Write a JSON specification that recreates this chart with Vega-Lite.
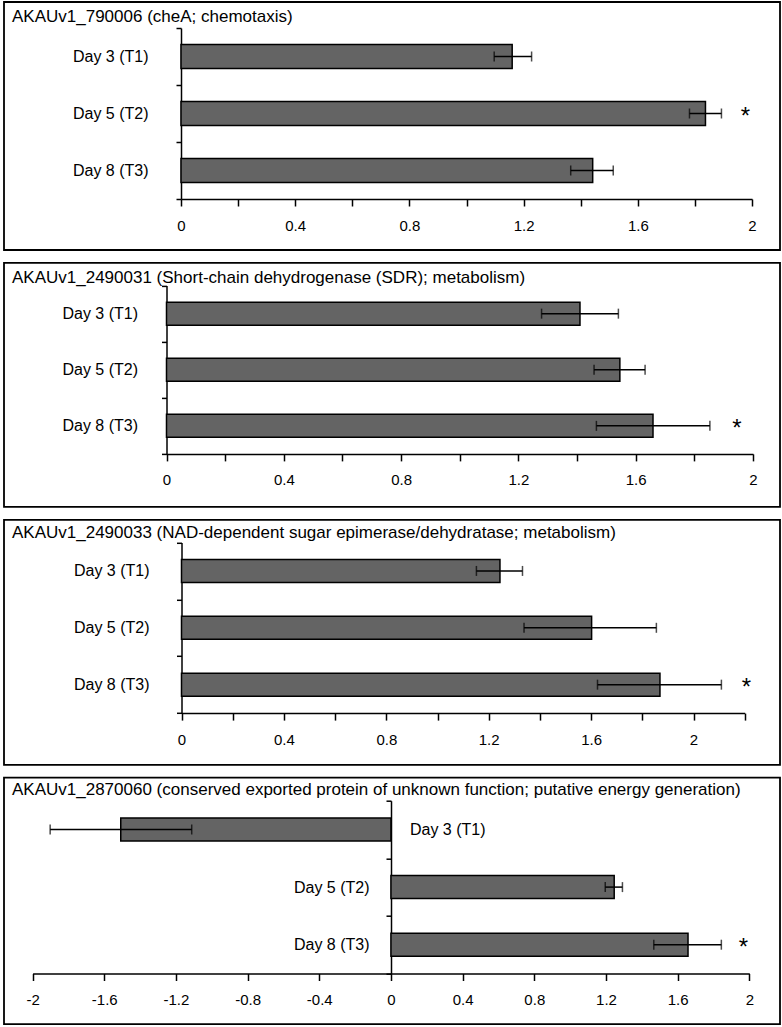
{
  "$schema": "https://vega.github.io/schema/vega-lite/v6.json",
  "background": "white",
  "padding": {"left": 3, "top": -7, "right": 0, "bottom": 0},
  "config": {
    "font": "Liberation Sans",
    "view": {"stroke": "black", "strokeWidth": 1.8},
    "axis": {
      "domainColor": "black", "domainWidth": 1.5, "tickColor": "black", "tickWidth": 1.5,
      "labelColor": "black", "labelFont": "Liberation Sans", "grid": false,
      "labelFlush": false, "labelOverlap": false, "labelBound": false, "title": null
    },
    "title": {"font": "Liberation Sans", "fontSize": 17, "fontWeight": "normal", "color": "black", "anchor": "start", "baseline": "alphabetic"}
  },
  "bounds": "flush",
  "spacing": 12.9,
  "vconcat": [
    {
      "width": 776, "height": 248,
      "title": {"text": "AKAUv1_790006 (cheA; chemotaxis)", "dx": 8, "offset": -32},
      "data": {"values": [
        {"day": "Day 3 (T1)", "mean": 1.16, "lo": 1.097, "hi": 1.228, "sig": ""},
        {"day": "Day 5 (T2)", "mean": 1.837, "lo": 1.781, "hi": 1.893, "sig": "*"},
        {"day": "Day 8 (T3)", "mean": 1.442, "lo": 1.365, "hi": 1.514, "sig": ""}
      ]},
      "encoding": {
        "y": {"field": "day", "type": "nominal", "sort": null,
          "scale": {"domain": ["Day 3 (T1)", "Day 5 (T2)", "Day 8 (T3)"], "range": [26, 197], "paddingInner": 0, "paddingOuter": 0},
          "axis": {"offset": -177, "tickBand": "extent", "tickSize": 5, "labelFontSize": 16, "labelPadding": 28}}
      },
      "layer": [
        {"mark": {"type": "bar", "size": 24, "fill": "#646464", "stroke": "black", "strokeWidth": 1.5},
         "encoding": {"x": {"field": "mean", "type": "quantitative", "title": null,
           "scale": {"domain": [0, 2], "range": [177, 748], "nice": false, "zero": false},
           "axis": {"offset": -51, "values": [0, 0.2, 0.4, 0.6, 0.8, 1, 1.2, 1.4, 1.6, 1.8, 2], "labelExpr": "abs(round(datum.value*10)) % 4 == 0 ? datum.value + '' : ''", "tickSize": 7, "labelFontSize": 15, "labelPadding": 12}}}},
        {"mark": {"type": "errorbar", "color": "black", "ticks": {"size": 10, "thickness": 1.5, "color": "black"}, "rule": {"strokeWidth": 1.5, "color": "black"}},
         "encoding": {"x": {"field": "lo", "type": "quantitative", "title": null}, "x2": {"field": "hi"}}},
        {"transform": [{"filter": "datum.sig == '*'"}],
         "mark": {"type": "text", "dx": 24, "dy": 3, "fontSize": 24, "align": "center", "baseline": "middle", "color": "black"},
         "encoding": {"x": {"field": "hi", "type": "quantitative", "title": null}, "text": {"field": "sig"}}}
      ]
    },
    {
      "width": 776, "height": 244,
      "title": {"text": "AKAUv1_2490031 (Short-chain dehydrogenase (SDR); metabolism)", "dx": 8, "offset": -32},
      "data": {"values": [
        {"day": "Day 3 (T1)", "mean": 1.41, "lo": 1.279, "hi": 1.541, "sig": ""},
        {"day": "Day 5 (T2)", "mean": 1.546, "lo": 1.458, "hi": 1.632, "sig": ""},
        {"day": "Day 8 (T3)", "mean": 1.659, "lo": 1.466, "hi": 1.853, "sig": "*"}
      ]},
      "encoding": {
        "y": {"field": "day", "type": "nominal", "sort": null,
          "scale": {"domain": ["Day 3 (T1)", "Day 5 (T2)", "Day 8 (T3)"], "range": [22.7, 191], "paddingInner": 0, "paddingOuter": 0},
          "axis": {"offset": -162.5, "tickBand": "extent", "tickSize": 5, "labelFontSize": 16, "labelPadding": 24}}
      },
      "layer": [
        {"mark": {"type": "bar", "size": 23, "fill": "#646464", "stroke": "black", "strokeWidth": 1.5},
         "encoding": {"x": {"field": "mean", "type": "quantitative", "title": null,
           "scale": {"domain": [0, 2], "range": [162.5, 749], "nice": false, "zero": false},
           "axis": {"offset": -53, "values": [0, 0.2, 0.4, 0.6, 0.8, 1, 1.2, 1.4, 1.6, 1.8, 2], "labelExpr": "abs(round(datum.value*10)) % 4 == 0 ? datum.value + '' : ''", "tickSize": 7, "labelFontSize": 15, "labelPadding": 12}}}},
        {"mark": {"type": "errorbar", "color": "black", "ticks": {"size": 10, "thickness": 1.5, "color": "black"}, "rule": {"strokeWidth": 1.5, "color": "black"}},
         "encoding": {"x": {"field": "lo", "type": "quantitative", "title": null}, "x2": {"field": "hi"}}},
        {"transform": [{"filter": "datum.sig == '*'"}],
         "mark": {"type": "text", "dx": 27, "dy": 3, "fontSize": 24, "align": "center", "baseline": "middle", "color": "black"},
         "encoding": {"x": {"field": "hi", "type": "quantitative", "title": null}, "text": {"field": "sig"}}}
      ]
    },
    {
      "width": 776, "height": 245,
      "title": {"text": "AKAUv1_2490033 (NAD-dependent sugar epimerase/dehydratase; metabolism)", "dx": 8, "offset": -30.5},
      "data": {"values": [
        {"day": "Day 3 (T1)", "mean": 1.244, "lo": 1.152, "hi": 1.332, "sig": ""},
        {"day": "Day 5 (T2)", "mean": 1.602, "lo": 1.338, "hi": 1.855, "sig": ""},
        {"day": "Day 8 (T3)", "mean": 1.869, "lo": 1.625, "hi": 2.109, "sig": "*"}
      ]},
      "encoding": {
        "y": {"field": "day", "type": "nominal", "sort": null,
          "scale": {"domain": ["Day 3 (T1)", "Day 5 (T2)", "Day 8 (T3)"], "range": [22.7, 193.3], "paddingInner": 0, "paddingOuter": 0},
          "axis": {"offset": -177.5, "tickBand": "extent", "tickSize": 5, "labelFontSize": 16, "labelPadding": 27.5}}
      },
      "layer": [
        {"mark": {"type": "bar", "size": 23, "fill": "#646464", "stroke": "black", "strokeWidth": 1.5},
         "encoding": {"x": {"field": "mean", "type": "quantitative", "title": null,
           "scale": {"domain": [0, 2.2], "range": [177.5, 740.7], "nice": false, "zero": false},
           "axis": {"offset": -51.7, "values": [0, 0.2, 0.4, 0.6, 0.8, 1, 1.2, 1.4, 1.6, 1.8, 2, 2.2], "labelExpr": "abs(round(datum.value*10)) % 4 == 0 ? datum.value + '' : ''", "tickSize": 7, "labelFontSize": 15, "labelPadding": 12}}}},
        {"mark": {"type": "errorbar", "color": "black", "ticks": {"size": 10, "thickness": 1.5, "color": "black"}, "rule": {"strokeWidth": 1.5, "color": "black"}},
         "encoding": {"x": {"field": "lo", "type": "quantitative", "title": null}, "x2": {"field": "hi"}}},
        {"transform": [{"filter": "datum.sig == '*'"}],
         "mark": {"type": "text", "dx": 25, "dy": 3, "fontSize": 24, "align": "center", "baseline": "middle", "color": "black"},
         "encoding": {"x": {"field": "hi", "type": "quantitative", "title": null}, "text": {"field": "sig"}}}
      ]
    },
    {
      "width": 776, "height": 246.5,
      "title": {"text": "AKAUv1_2870060 (conserved exported protein of unknown function;  putative energy generation)", "dx": 8, "offset": -29.5},
      "data": {"values": [
        {"day": "Day 3 (T1)", "mean": -1.508, "lo": -1.902, "hi": -1.112, "sig": ""},
        {"day": "Day 5 (T2)", "mean": 1.246, "lo": 1.196, "hi": 1.292, "sig": ""},
        {"day": "Day 8 (T3)", "mean": 1.658, "lo": 1.467, "hi": 1.844, "sig": "*"}
      ]},
      "encoding": {
        "y": {"field": "day", "type": "nominal", "sort": null,
          "scale": {"domain": ["Day 3 (T1)", "Day 5 (T2)", "Day 8 (T3)"], "range": [23, 195.8], "paddingInner": 0, "paddingOuter": 0},
          "axis": {"offset": -387, "tickBand": "extent", "tickSize": 5, "labelFontSize": 16, "labelPadding": 17, "labelExpr": "datum.label == 'Day 3 (T1)' ? '' : datum.label"}}
      },
      "layer": [
        {"mark": {"type": "bar", "size": 23, "fill": "#646464", "stroke": "black", "strokeWidth": 1.5},
         "encoding": {"x": {"field": "mean", "type": "quantitative", "title": null,
           "scale": {"domain": [-2, 2], "range": [28.6, 745.3], "nice": false, "zero": false},
           "axis": {"offset": -50.7, "values": [-2, -1.8, -1.6, -1.4, -1.2, -1, -0.8, -0.6, -0.4, -0.2, 0, 0.2, 0.4, 0.6, 0.8, 1, 1.2, 1.4, 1.6, 1.8, 2], "labelExpr": "abs(round(datum.value*10)) % 4 == 0 ? datum.value + '' : ''", "tickSize": 7, "labelFontSize": 15, "labelPadding": 12}}}},
        {"mark": {"type": "errorbar", "color": "black", "ticks": {"size": 10, "thickness": 1.5, "color": "black"}, "rule": {"strokeWidth": 1.5, "color": "black"}},
         "encoding": {"x": {"field": "lo", "type": "quantitative", "title": null}, "x2": {"field": "hi"}}},
        {"transform": [{"filter": "datum.mean < 0"}],
         "mark": {"type": "text", "dx": 19, "fontSize": 16, "align": "left", "baseline": "middle", "color": "black"},
         "encoding": {"x": {"datum": 0, "type": "quantitative"}, "text": {"field": "day"}}},
        {"transform": [{"filter": "datum.sig == '*'"}],
         "mark": {"type": "text", "dx": 22, "dy": 3, "fontSize": 24, "align": "center", "baseline": "middle", "color": "black"},
         "encoding": {"x": {"field": "hi", "type": "quantitative", "title": null}, "text": {"field": "sig"}}}
      ]
    }
  ]
}
